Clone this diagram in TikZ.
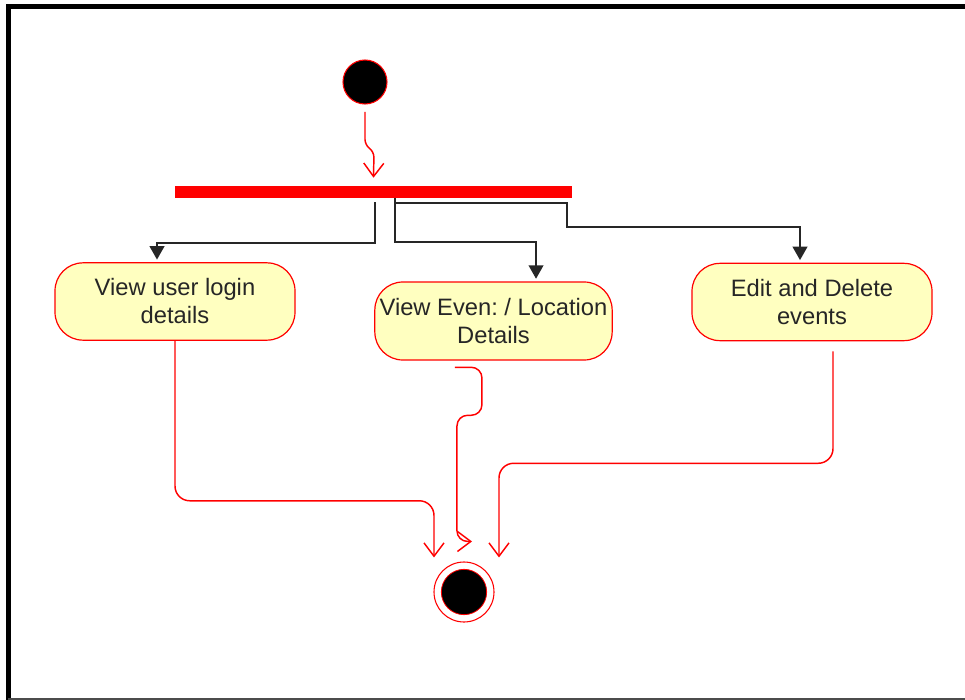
\documentclass[tikz,border=0pt]{standalone}
\usepackage{fontspec}
\setmainfont{Liberation Sans}
\usetikzlibrary{arrows.meta}
\definecolor{actfill}{HTML}{FFFFC0}
\definecolor{actred}{HTML}{FF0000}
\frenchspacing
\begin{document}
\begin{tikzpicture}[x=0.75pt,y=-0.75pt,
  act/.style={draw=actred, line width=0.9pt, fill=actfill, rounded corners=21pt,
    minimum width=180pt, minimum height=58pt, align=center,
    font=\fontsize{17.8}{21}\selectfont, text=black!85, inner sep=0pt},
  flow/.style={draw=actred, line width=1.1pt, rounded corners=11pt,
    -{Straight Barb[length=10pt,width=15pt,line width=1.1pt]}},
  ctl/.style={draw=black!85, line width=1.2pt, -{Triangle[length=10pt,width=11pt]}},
  startdot/.style={circle, fill=black, draw=actred, line width=0.8pt, inner sep=0pt},
]
\useasboundingbox (0,0) rectangle (965,700);
\fill[white] (0,0) rectangle (965,700);
% frame
\draw[line width=3.75pt] (6,6.5) -- (965,6.5);
\draw[line width=3.75pt] (8.5,5) -- (8.5,700);
\draw[line width=1.5pt, black!70] (8,699) -- (965,699);

% nodes
\node[startdot, minimum size=33pt] (start) at (365,82) {};
\node[fill=actred, minimum width=297.75pt, minimum height=9pt, inner sep=0pt] (bar) at (373.5,192) {};
\node[act] (a1) at (175,301.5) {View user login\\details};
\node[act, minimum width=178pt, minimum height=58.5pt] (a2) at (493.5,321) {View Even: / Location\\Details};
\node[act] (a3) at (812,302) {Edit and Delete\\events};
\node[circle, draw=actred, line width=0.8pt, fill=white, minimum size=45pt, inner sep=0pt] (end) at (464,592) {};
\node[startdot, line width=0.6pt, minimum size=34pt] (endin) at (end) {};

% initial -> bar
\draw[flow, rounded corners=4pt] ([yshift=-5.5pt]start.south) -- ++(0,33) -- ++(9,7) -- ([yshift=6pt]bar.north);

% fork -> actions
\draw[ctl] ([xshift=1.1pt,yshift=-3pt]bar.south) -- ++(0,41) -| ([xshift=-13.5pt,yshift=2pt]a1.north);
\draw[ctl] ([xshift=16.1pt]bar.south) -- ++(0,44) -| ([xshift=31.9pt,yshift=2pt]a2.north);
\draw[ctl] ([xshift=16.1pt,yshift=-3.75pt]bar.south) -- ++(172,0) -- ++(0,24) -| ([xshift=-9pt,yshift=2pt]a3.north);

% actions -> final
\draw[flow] (a1.south) -- ++(0,160) -| ([xshift=-22.5pt,yshift=3pt]end.north);
\draw[flow, rounded corners=8pt] ([xshift=-28.9pt,yshift=-5pt]a2.south) -- ++(27,0) -- ++(0,48) -- ++(-25,0) |- ([xshift=6pt,yshift=15pt]end.north);
\draw[flow] ([xshift=15.75pt,yshift=-7.5pt]a3.south) -- ++(0,112) -| ([xshift=26.25pt,yshift=3pt]end.north);
\end{tikzpicture}
\end{document}
